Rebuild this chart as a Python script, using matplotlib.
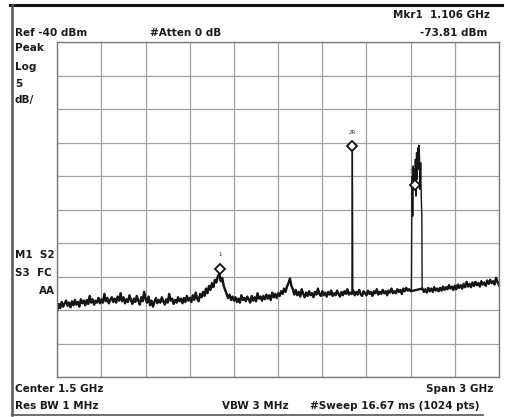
"""Spectrum analyzer screen: 0-3 GHz sweep, Ref -40 dBm, 5 dB/div."""

import matplotlib

matplotlib.use("Agg")
import matplotlib.pyplot as plt  # noqa: E402
import numpy as np  # noqa: E402
from matplotlib.lines import Line2D  # noqa: E402

# sweep setup
start_ghz, stop_ghz = 0.0, 3.0
ref_dbm, db_per_div = -40.0, 5.0

# noise floor, one value every 10 MHz from 0 to 3 GHz
noise_dbm = [
    -80.0, -79.1, -79.7, -78.8, -79.5, -79.0, -78.6, -79.4, -78.9, -79.6,
    -78.7, -79.3, -78.5, -79.2, -78.8, -79.5, -78.4, -79.0, -78.6, -79.3,
    -78.5, -79.1, -77.9, -78.9, -78.4, -79.2, -78.6, -78.9, -78.2, -79.0,
    -78.4, -78.9, -77.6, -78.7, -78.2, -79.0, -78.5, -78.1, -78.8, -78.3,
    -78.9, -78.0, -78.6, -77.5, -78.7, -78.1, -79.0, -78.4, -78.8, -77.8,
    -78.5, -79.1, -78.3, -78.8, -77.9, -78.6, -79.2, -78.1, -78.7, -77.3,
    -78.4, -78.9, -78.0, -79.3, -78.6, -79.5, -78.8, -78.2, -79.0, -78.5,
    -78.9, -78.1, -78.7, -79.2, -78.4, -78.9, -77.6, -78.6, -78.3, -79.1,
    -78.5, -78.9, -78.1, -78.7, -78.3, -79.0, -78.2, -78.8, -77.9, -78.6,
    -78.2, -78.8, -77.8, -78.5, -77.4, -78.3, -78.7, -77.6, -78.1, -77.3,
    -77.9, -76.8, -77.5, -76.4, -77.0, -76.0, -76.6, -75.5, -75.9, -75.0,
    -74.6, -75.7, -75.2, -76.4, -77.0, -77.6, -78.2, -77.7, -78.5, -78.0,
    -78.6, -78.1, -78.8, -78.3, -78.9, -77.8, -78.5, -78.2, -78.7, -78.0,
    -78.4, -78.9, -77.9, -78.6, -78.1, -78.7, -77.5, -78.3, -78.0, -78.6,
    -77.9, -78.4, -77.7, -78.3, -77.8, -78.5, -77.4, -78.1, -77.6, -78.2,
    -77.5, -77.9, -77.2, -77.6, -76.8, -77.3, -76.5, -76.0, -75.3, -76.4,
    -76.9, -77.7, -77.0, -77.8, -77.3, -78.0, -76.9, -77.6, -78.1, -77.4,
    -77.9, -77.2, -77.8, -77.5, -78.1, -77.3, -77.7, -76.8, -77.6, -77.9,
    -77.2, -77.8, -77.4, -78.0, -77.3, -77.7, -77.1, -77.9, -77.5, -77.8,
    -77.1, -77.6, -78.0, -77.3, -77.8, -77.2, -77.6, -76.9, -77.7, -77.4,
    -77.6, -77.1, -77.8, -77.3, -77.7, -77.0, -77.6, -77.9, -77.2, -77.5,
    -77.8, -77.1, -77.6, -77.3, -77.9, -77.2, -77.5, -76.9, -77.7, -77.3,
    -77.6, -77.0, -77.5, -77.2, -77.8, -77.1, -77.4, -76.8, -77.5, -77.2,
    -77.5, -76.9, -77.3, -77.0, -77.6, -76.8, -77.2, -76.7, -77.1, -76.9,
    -77.2, -77.0, -77.0, -77.0, -77.0, -77.0, -77.0, -77.0, -76.8, -77.3,
    -76.9, -77.4, -76.7, -77.2, -76.8, -77.3, -76.6, -77.1, -76.8, -77.2,
    -76.7, -77.1, -76.5, -77.0, -76.6, -76.9, -76.3, -76.8, -76.5, -77.0,
    -76.4, -76.9, -76.2, -76.7, -76.3, -76.8, -76.1, -76.6, -75.8, -76.5,
    -76.1, -76.6, -75.9, -76.4, -75.8, -76.3, -76.0, -76.5, -75.7, -76.2,
    -75.9, -76.4, -75.6, -76.1, -75.5, -76.0, -75.7, -76.2, -75.2, -75.8,
    -76.3,
]
noise_ghz = np.linspace(start_ghz, stop_ghz, len(noise_dbm))

# narrow carrier (marker 2R)
carrier_ghz = [2.001, 2.004, 2.007]
carrier_dbm = [-77.4, -55.5, -77.3]

# 2.4 GHz band burst
band_ghz = [2.405, 2.408, 2.411, 2.414, 2.417, 2.420, 2.424, 2.428, 2.432,
            2.436, 2.440, 2.444, 2.448, 2.452, 2.456, 2.460, 2.464, 2.468,
            2.472, 2.476, 2.478]
band_dbm = [-77.2, -64.0, -60.0, -66.0, -58.5, -62.0, -59.0, -61.3, -57.5,
            -63.0, -56.5, -60.5, -55.8, -59.0, -55.4, -57.0, -62.0, -58.0,
            -63.0, -66.0, -77.0]

# markers
marker_names = ["1", "2R", "3"]
marker_ghz = [1.106, 2.004, 2.430]
marker_dbm = [-73.81, -55.5, -61.3]

# screen annotations
top_texts = ["Ref -40 dBm", "#Atten 0 dB"]
side_texts = ["Peak", "Log", "5", "dB/"]

# assemble the trace
keep = (noise_ghz < band_ghz[0]) | (noise_ghz > band_ghz[-1])
keep &= (noise_ghz < carrier_ghz[0]) | (noise_ghz > carrier_ghz[-1])
floor_ghz = noise_ghz[keep]
floor_dbm = np.array(noise_dbm)[keep]
trace_ghz = np.concatenate([floor_ghz, carrier_ghz, band_ghz])
trace_dbm = np.concatenate([floor_dbm, carrier_dbm, band_dbm])
order = np.argsort(trace_ghz)
trace_ghz, trace_dbm = trace_ghz[order], trace_dbm[order]

W, H = 506, 417
fig = plt.figure(figsize=(W / 100, H / 100), dpi=100)
fig.patch.set_facecolor("white")

# plot area in pixels: x 57..499, y 42..377
ax = fig.add_axes([57.3 / W, 1 - 377 / H, 441.7 / W, 335 / H])
ax.set_xlim(start_ghz, stop_ghz)
ax.set_ylim(ref_dbm - 10 * db_per_div, ref_dbm)
ax.set_xticks(np.linspace(start_ghz, stop_ghz, 11))
ax.set_yticks(np.linspace(ref_dbm - 10 * db_per_div, ref_dbm, 11))
ax.tick_params(length=0, labelbottom=False, labelleft=False)
ax.grid(True, color="#a0a0a0", lw=0.9)
for s in ax.spines.values():
    s.set_color("#7a7a7a")
    s.set_linewidth(1.0)

# thin full trace, the noise floor drawn heavier like the scope's smear
ax.plot(trace_ghz, trace_dbm, color="#151515", lw=1.0)
ax.plot(floor_ghz, floor_dbm, color="#151515", lw=1.7)
ax.plot(marker_ghz, marker_dbm, ls="none", marker="D", ms=5.5,
        mfc="white", mec="#111111", mew=1.3, zorder=5)
label_offsets = [(0, 8), (0, 8), (-3, 8)]
for name, f, l, off in zip(marker_names, marker_ghz, marker_dbm, label_offsets):
    ax.annotate(name, (f, l), xytext=off, textcoords="offset points",
                ha="center", va="bottom", fontsize=4, color="#333333")

# instrument frame
fig.add_artist(Line2D([10 / W, 502 / W], [1 - 4.5 / H, 1 - 4.5 / H],
                      color="#111111", lw=2.2))
fig.add_artist(Line2D([12.5 / W, 12.5 / W], [1 - 4.5 / H, 1 - 415 / H],
                      color="#555555", lw=1.8))
fig.add_artist(Line2D([12.5 / W, 483 / W], [1 - 415 / H, 1 - 415 / H],
                      color="#555555", lw=1.2))

txt = dict(fontsize=7.5, fontweight="bold", color="#1a1a1a",
           family="DejaVu Sans", va="center")


def put(x, y, s, ha="left"):
    fig.text(x / W, 1 - y / H, s, ha=ha, **txt)


put(490, 15, "Mkr1  1.106 GHz", ha="right")
put(15, 33, top_texts[0])
put(150, 33, top_texts[1])
put(487, 33, "-73.81 dBm", ha="right")
for s, y in zip(side_texts, [48, 67, 84, 100]):
    put(15, y, s)
put(15, 255, "M1  S2")
put(15, 273, "S3  FC")
put(55, 291, "AA", ha="right")
put(15, 389, "Center 1.5 GHz")
put(493, 389, "Span 3 GHz", ha="right")
put(15, 406, "Res BW 1 MHz")
put(222, 406, "VBW 3 MHz")
put(310, 406, "#Sweep 16.67 ms (1024 pts)")

fig.savefig("out.png", dpi=100)
plt.close(fig)
